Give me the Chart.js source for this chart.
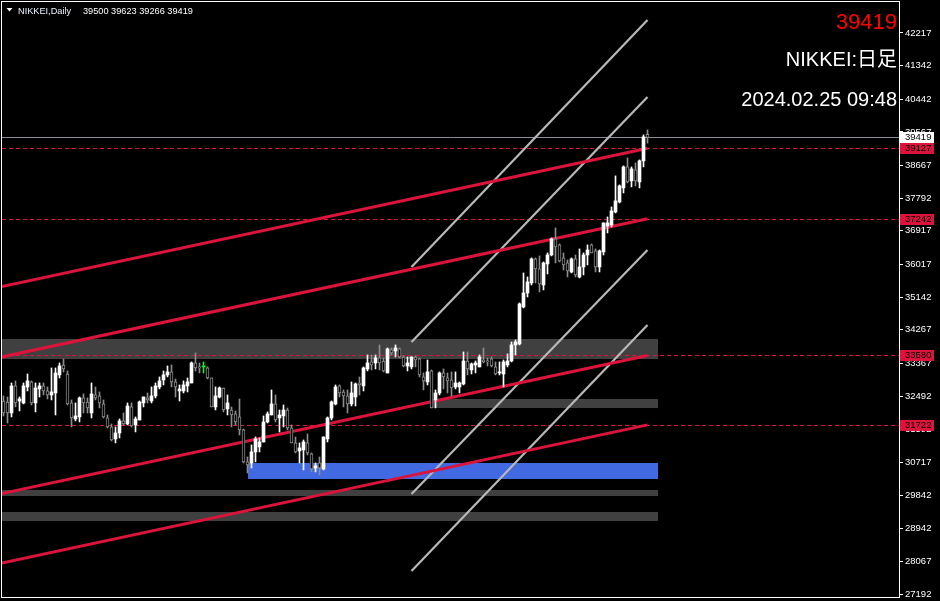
<!DOCTYPE html>
<html>
<head>
<meta charset="utf-8">
<script src="https://cdn.jsdelivr.net/npm/chart.js@4.4.1/dist/chart.umd.min.js"></script>
<style>
  html, body { margin: 0; padding: 0; background: #000; }
  #wrap { width: 940px; height: 601px; }
  canvas { display: block; }
</style>
</head>
<body>
<div id="wrap"><canvas id="nikkeiChart" width="940" height="601"></canvas></div>
<script>
/**
 * NIKKEI daily candles with channel lines and zones (MT4 style)
 */

const symbolName = "NIKKEI";
const timeframe = "Daily";
const stampText = "2024.02.25 09:48";

// OHLC, one value per daily candle (oldest first)
const opens = [
  32362, 32335, 32041, 32764, 32362, 32309, 32737, 32871, 32309, 32684,
  32764, 32630, 32523, 32576, 33059, 33326, 33085, 32309, 31880, 31934,
  32443, 32335, 32041, 32523, 32496, 32282, 31907, 31666, 31345, 31505,
  31827, 31746, 32202, 31720, 31853, 32309, 32443, 32362, 32496, 32737,
  32925, 33059, 33139, 32871, 32630, 32630, 32764, 32844, 33380, 33273,
  33273, 33246, 32978, 32202, 32469, 32710, 32148, 32121, 32014, 31934,
  31586, 30729, 30702, 30997, 31131, 31264, 31800, 31987, 32282, 31907,
  31961, 32121, 31639, 31238, 31023, 31050, 31238, 30943, 30568, 30702,
  30541, 31345, 31907, 32282, 32764, 32603, 32496, 32282, 32469, 32844,
  32764, 33219, 33407, 33380, 33514, 33433, 33112, 33728, 33701, 33755,
  33540, 33299, 33273, 33540, 33487, 33005, 32871, 33166, 32389, 32576,
  33112, 32978, 32925, 32737, 32737, 32818, 33433, 33192, 33326, 33273,
  33460, 33433, 33487, 33273, 33112, 33085, 33326, 33433, 33862, 33889,
  34880, 35254, 35522, 36165, 35897, 35469, 36031, 36272, 36701, 36540,
  36192, 36058, 35817, 36165, 35683, 35951, 36272, 36540, 36380, 35951,
  36353, 37049, 37076, 37424, 37692, 38067, 38630, 38255, 38549, 38228,
  38791, 39500,
];
const highs = [
  32496, 32469, 32844, 32898, 32469, 32844, 33085, 32898, 32844, 32844,
  32844, 32737, 33246, 33246, 33380, 33487, 33166, 32389, 32309, 32469,
  32550, 32443, 32844, 32737, 32603, 32389, 31987, 31746, 31666, 31880,
  32041, 32309, 32309, 31934, 32362, 32469, 32576, 32737, 32844, 33005,
  33166, 33299, 33326, 32951, 32791, 32898, 32978, 33407, 33648, 33380,
  33407, 33273, 32978, 32737, 32737, 32710, 32523, 32202, 32094, 32416,
  31612, 30863, 31184, 31398, 31371, 31961, 32068, 32657, 32523, 32121,
  32255, 32175, 31720, 31398, 31238, 31318, 31479, 30970, 30702, 30863,
  31398, 31934, 32362, 32791, 32791, 32657, 32657, 32871, 32844, 33005,
  33273, 33594, 33594, 33594, 33862, 33514, 33781, 33781, 33862, 33781,
  33567, 33540, 33540, 33567, 33514, 33112, 33460, 33192, 32657, 33139,
  33219, 33112, 33139, 33139, 32871, 33674, 33674, 33380, 33433, 33594,
  33781, 33514, 33540, 33407, 33407, 33460, 33621, 33942, 33996, 34987,
  35790, 35683, 36192, 36192, 36246, 36085, 36326, 36728, 36996, 36567,
  36326, 36138, 36192, 36272, 36433, 36326, 36540, 36567, 36433, 36406,
  37130, 37290, 37558, 38389, 38147, 38657, 38871, 38630, 38737, 38818,
  39487, 39623,
];
const lows = [
  31961, 31773, 31934, 32202, 32094, 32282, 32630, 32255, 32068, 32469,
  32523, 32416, 32389, 31987, 32978, 33139, 32255, 31666, 31827, 31800,
  32041, 32041, 31907, 32389, 32175, 31907, 31639, 31291, 31238, 31371,
  31720, 31720, 31666, 31532, 31853, 32202, 32309, 32309, 32443, 32684,
  32791, 33005, 32737, 32469, 32362, 32576, 32603, 32844, 33166, 33112,
  33112, 32951, 32202, 32121, 32443, 32068, 31987, 31666, 31720, 31452,
  30702, 30434, 30568, 30729, 30997, 31264, 31773, 31987, 31800, 31532,
  31666, 31586, 31238, 30970, 30702, 30515, 30916, 30461, 30461, 30381,
  30515, 31264, 31853, 32255, 32469, 32202, 32041, 32228, 32228, 32523,
  32630, 33166, 33192, 33219, 33192, 33139, 33112, 33594, 33540, 33514,
  33273, 33166, 33219, 33273, 33005, 32657, 32791, 32175, 32175, 32523,
  32684, 32576, 32496, 32684, 32576, 32791, 33059, 33085, 33112, 33273,
  33380, 33299, 33273, 33059, 33059, 32737, 33273, 33407, 33594, 33862,
  34853, 35147, 35469, 35522, 35281, 35335, 35764, 36246, 36058, 36085,
  35871, 35683, 35790, 35683, 35656, 35737, 36005, 36326, 35817, 35817,
  36272, 36862, 37022, 37397, 37665, 37933, 38201, 38094, 38121, 38067,
  38630, 39266,
];
const closes = [
  32041, 32041, 32764, 32309, 32416, 32764, 32898, 32309, 32710, 32764,
  32630, 32523, 32603, 33112, 33299, 33219, 32282, 31907, 31961, 32443,
  32309, 32175, 32550, 32443, 32309, 31934, 31666, 31318, 31505, 31827,
  31746, 32228, 31693, 31880, 32335, 32469, 32389, 32496, 32764, 32898,
  33059, 33139, 32871, 32737, 32684, 32791, 32871, 33380, 33246, 33246,
  33273, 32978, 32202, 32496, 32710, 32121, 32309, 31987, 31800, 31586,
  30729, 30649, 30997, 31345, 31264, 31800, 32014, 32282, 31853, 31987,
  32121, 31639, 31238, 30997, 31104, 31264, 30970, 30541, 30622, 30568,
  31398, 31907, 32335, 32737, 32576, 32496, 32282, 32576, 32818, 32791,
  33246, 33380, 33326, 33514, 33380, 33166, 33755, 33648, 33781, 33540,
  33299, 33380, 33540, 33460, 33059, 32898, 33139, 32175, 32576, 33112,
  33005, 32898, 32710, 32844, 32844, 33433, 33219, 33353, 33380, 33540,
  33407, 33407, 33299, 33085, 33139, 33407, 33433, 33862, 33942, 34960,
  35254, 35549, 36165, 35897, 35496, 36058, 36272, 36701, 36487, 36112,
  36005, 35844, 36165, 35737, 35951, 36272, 36406, 36326, 35951, 36380,
  37130, 37130, 37451, 37719, 38121, 38630, 38228, 38576, 38255, 38791,
  39434, 39419,
];

// price axis labels
const tickValues = [
  42217, 41342, 40442, 39567, 38667, 37792, 36917, 36017, 35142,
  34267, 33367, 32492, 31592, 30717, 29842, 28942, 28067, 27192,
];

// horizontal levels (red dashed) and current bid
const levelPrices = [39127, 37242, 33580, 31722];
const bidPrice = 39419;

// red channel: [startIndex, startPrice, endIndex, endPrice]
const redLines = [
  [-1, 35414, 161, 39127],
  [-1, 33529, 161, 37242],
  [-1, 29867, 161, 33580],
  [-1, 28009, 161, 31722],
];

// grey steep channel: [startIndex, startPrice, endIndex, endPrice]
const greyLines = [
  [102, 35949, 161, 42564],
  [102, 33941, 161, 40502],
  [102, 29870, 161, 36405],
  [102, 27808, 161, 34396],
];

// zones: [fromIndex, toIndex, topPrice, bottomPrice]
const greyZones = [
  [-1, 163.6, 34021, 33486],
  [107, 163.6, 32414, 32173],
  [-1, 163.6, 29977, 29817],
  [-1, 163.6, 29388, 29147],
];
const blueZones = [[61, 163.6, 30700, 30272]];

const UP = "#ffffff";
const DOWN = "#8c8c8c";
const DOJI = "#00ff00";
const CRIMSON = "#dc143c";
const last = closes.length - 1;

const candleColor = (i) => {
  if (opens[i] === closes[i]) return DOJI;
  return closes[i] > opens[i] ? UP : DOWN;
};

const bodyData = opens.map((o, i) => ({ x: i, y: [o, closes[i]] }));
const wickData = lows.map((l, i) => ({ x: i, y: [l, highs[i]] }));

const segment = (seg, color, width, order) => ({
  type: "line",
  data: [
    { x: seg[0], y: seg[1] },
    { x: seg[2], y: seg[3] },
  ],
  borderColor: color,
  borderWidth: width,
  pointRadius: 0,
  order: order,
});

/**
 * Background, zones, dashed levels, frame, price tags and texts
 */
const terminalPlugin = {
  id: "terminal",
  beforeDraw: (chart) => {
    const ctx = chart.ctx;
    ctx.save();
    ctx.fillStyle = "#000";
    ctx.fillRect(0, 0, chart.width, chart.height);
    ctx.restore();
  },
  beforeDatasetsDraw: (chart) => {
    const { ctx, chartArea, scales } = chart;
    const xs = scales.x;
    const ys = scales.y;
    ctx.save();
    ctx.beginPath();
    ctx.rect(chartArea.left, chartArea.top, chartArea.right - chartArea.left, chartArea.bottom - chartArea.top);
    ctx.clip();

    const fillZone = (z, color) => {
      const x1 = Math.round(xs.getPixelForValue(z[0]));
      const x2 = Math.round(xs.getPixelForValue(z[1]));
      const y1 = Math.round(ys.getPixelForValue(z[2]));
      const y2 = Math.round(ys.getPixelForValue(z[3]));
      ctx.fillStyle = color;
      ctx.fillRect(x1, y1, x2 - x1, y2 - y1);
    };
    greyZones.forEach((z) => fillZone(z, "#404040"));
    blueZones.forEach((z) => fillZone(z, "#4169e1"));

    // dashed levels
    ctx.strokeStyle = CRIMSON;
    ctx.lineWidth = 1;
    ctx.setLineDash([4, 3]);
    levelPrices.forEach((p) => {
      const y = Math.round(ys.getPixelForValue(p)) + 0.5;
      ctx.beginPath();
      ctx.moveTo(chartArea.left, y);
      ctx.lineTo(chartArea.right, y);
      ctx.stroke();
    });
    ctx.setLineDash([]);

    // bid line
    const by = Math.round(ys.getPixelForValue(bidPrice)) + 0.5;
    ctx.strokeStyle = "#8a8f96";
    ctx.beginPath();
    ctx.moveTo(chartArea.left, by);
    ctx.lineTo(chartArea.right, by);
    ctx.stroke();
    ctx.restore();
  },
  afterDraw: (chart) => {
    const { ctx, chartArea, scales } = chart;
    const ys = scales.y;
    ctx.save();

    // frame
    ctx.strokeStyle = "#ffffff";
    ctx.lineWidth = 1;
    ctx.strokeRect(1.5, 1.5, chartArea.right - 1, chartArea.bottom - 1);

    // price tags on the axis
    ctx.font = "9.5px 'Liberation Sans', Arial, sans-serif";
    ctx.textBaseline = "middle";
    ctx.textAlign = "left";
    const tag = (price, bg) => {
      const y = Math.round(ys.getPixelForValue(price));
      ctx.fillStyle = bg;
      ctx.fillRect(chartArea.right + 1, y - 5, 34, 11);
      ctx.fillStyle = "#000";
      ctx.fillText(String(price), chartArea.right + 6, y + 0.5);
    };
    levelPrices.forEach((p) => tag(p, CRIMSON));
    tag(bidPrice, "#ffffff");

    // header, top left
    ctx.fillStyle = "#ffffff";
    ctx.beginPath();
    ctx.moveTo(6.5, 8);
    ctx.lineTo(12.5, 8);
    ctx.lineTo(9.5, 11.5);
    ctx.closePath();
    ctx.fill();
    ctx.font = "9.2px 'Liberation Sans', Arial, sans-serif";
    ctx.textBaseline = "alphabetic";
    ctx.fillStyle = "#e8f4ff";
    ctx.fillText(`${symbolName},${timeframe}`, 18, 14);
    ctx.fillStyle = "#ffffff";
    ctx.fillText(`${opens[last]} ${highs[last]} ${lows[last]} ${closes[last]}`, 83, 14);

    // info texts, top right
    ctx.textAlign = "right";
    ctx.fillStyle = "#ff0000";
    ctx.font = "22px 'Liberation Sans', Arial, sans-serif";
    ctx.fillText(String(closes[last]), 897, 29);
    ctx.fillStyle = "#ffffff";
    ctx.font = "20px 'Liberation Sans', 'Noto Sans CJK JP', sans-serif";
    ctx.fillText(`${symbolName}:日足`, 897, 66);
    ctx.fillText(stampText, 897, 106);
    ctx.restore();
  },
};

const ctx = document.getElementById("nikkeiChart").getContext("2d");

const chart = new Chart(ctx, {
  type: "bar",
  data: {
    datasets: [
      {
        label: "body",
        data: bodyData,
        grouped: false,
        barThickness: 3,
        minBarLength: 1,
        borderSkipped: false,
        backgroundColor: opens.map((o, i) => (closes[i] < o ? "#000000" : candleColor(i))),
        borderColor: opens.map((o, i) => candleColor(i)),
        borderWidth: opens.map((o, i) => (closes[i] < o ? 1 : 0)),
        order: 1,
      },
      {
        label: "wick",
        data: wickData,
        grouped: false,
        barThickness: 1,
        borderWidth: 0,
        backgroundColor: opens.map((o, i) => candleColor(i)),
        order: 2,
      },
      ...redLines.map((s) => segment(s, CRIMSON, 3, 3)),
      ...greyLines.map((s) => segment(s, "#b8b8b8", 2.2, 3)),
    ],
  },
  options: {
    responsive: false,
    animation: false,
    devicePixelRatio: 1,
    events: [],
    layout: { padding: { left: 2, top: 2, right: 0, bottom: 4 } },
    scales: {
      x: {
        type: "linear",
        min: -0.375,
        max: 223.875,
        offset: false,
        display: false,
      },
      y: {
        position: "right",
        min: 27112,
        max: 43046,
        afterBuildTicks: (axis) => {
          axis.ticks = tickValues.map((v) => ({ value: v }));
        },
        afterFit: (axis) => {
          axis.width = 41;
          axis.paddingTop = 0;
          axis.paddingBottom = 0;
        },
        grid: {
          drawOnChartArea: false,
          drawTicks: true,
          tickLength: 4,
          color: "#ffffff",
        },
        border: { display: true, color: "#ffffff", width: 1 },
        ticks: {
          autoSkip: false,
          color: "#ffffff",
          padding: 2,
          font: { family: "'Liberation Sans', Arial, sans-serif", size: 9.5 },
          callback: (value) => String(value),
        },
      },
    },
    plugins: {
      legend: { display: false },
      tooltip: { enabled: false },
    },
  },
  plugins: [terminalPlugin],
});
</script>
</body>
</html>
